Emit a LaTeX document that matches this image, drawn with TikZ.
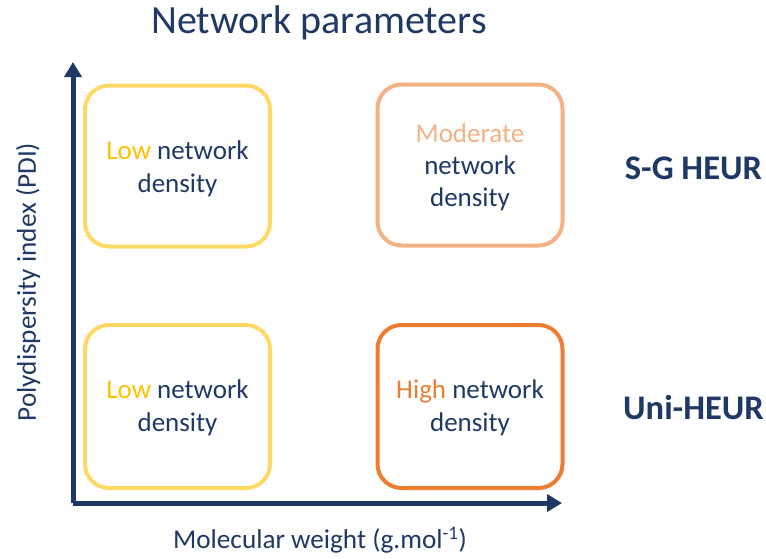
\documentclass[tikz,border=0pt]{standalone}
\usepackage{fontspec}
\setmainfont{Carlito}
\usetikzlibrary{arrows.meta}
\definecolor{navy}{HTML}{1F3864}
\definecolor{lowbox}{HTML}{FFD966}
\definecolor{lowtxt}{HTML}{FFC000}
\definecolor{modcol}{HTML}{F4B183}
\definecolor{highcol}{HTML}{ED7D31}
\tikzset{
  cell/.style={draw=#1, line width=4pt, rounded corners=24pt, minimum width=185pt, minimum height=161pt, align=center, text=navy, font=\fontsize{27}{32.5}\selectfont, inner sep=0pt},
  axisline/.style={draw=navy, line width=5pt, -{Triangle[length=15pt,width=17pt]}},
  rowlabel/.style={text=navy, font=\fontsize{34.5}{38}\selectfont\bfseries},
  axlabel/.style={text=navy, font=\fontsize{27.2}{30}\selectfont},
}
\begin{document}
\begin{tikzpicture}[x=1pt,y=-1pt]
\useasboundingbox (0,0) rectangle (766,558);
\node[text=navy, font=\fontsize{40}{44}\selectfont] (title) at (319,23) {Network parameters};
\coordinate (o) at (73,503);
\coordinate (ytip) at (73,62);
\coordinate (xtip) at (562,503);
\draw[axisline] (o) -- (ytip);
\draw[axisline] (o) -- (xtip);
\node[cell=lowbox] (tl) at (177.5,166) {};
\node[text=navy, align=center, font=\fontsize{27}{32.5}\selectfont] (tlt) at (177.5,169) {\textcolor{lowtxt}{Low} network\\density};
\node[cell=modcol] (tr) at (470,165) {};
\node[text=navy, align=center, font=\fontsize{27}{32}\selectfont] (trt) at (470,167) {\textcolor{modcol}{Moderate}\\network\\density};
\node[cell=lowbox, minimum height=163pt] (bl) at (177.5,406.5) {};
\node[text=navy, align=center, font=\fontsize{27}{32.5}\selectfont] (blt) at (177.5,408) {\textcolor{lowtxt}{Low} network\\density};
\node[cell=highcol, minimum height=163pt] (br) at (470,406.5) {};
\node[text=navy, align=center, font=\fontsize{27}{32.5}\selectfont] (brt) at (470,408) {\textcolor{highcol}{High} network\\density};
\node[rowlabel] (sg) at (693.5,168) {S-G HEUR};
\node[rowlabel] (uni) at (693.5,408) {Uni-HEUR};
\node[axlabel] (xl) at (320,540) {Molecular weight (g.mol\textsuperscript{-1})};
\node[axlabel, rotate=90] (yl) at (28,282) {Polydispersity index (PDI)};
\end{tikzpicture}
\end{document}
